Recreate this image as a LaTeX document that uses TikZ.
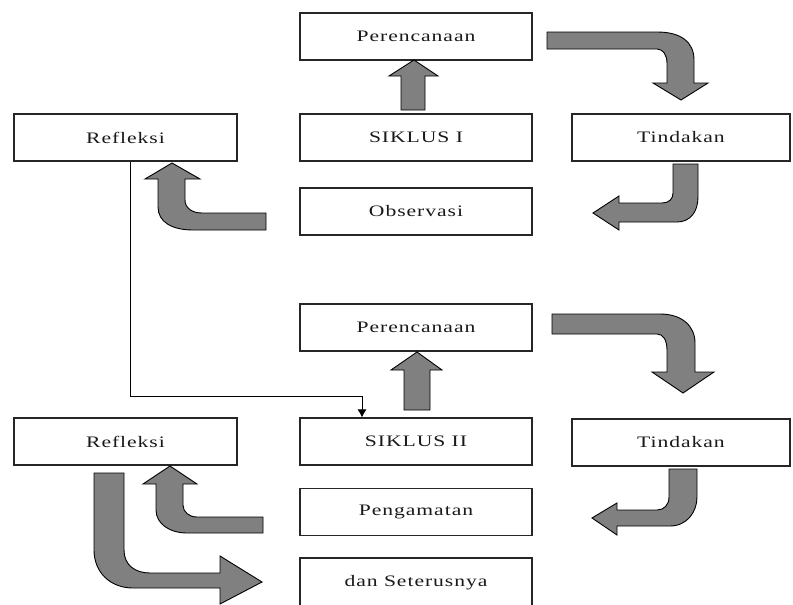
\documentclass[tikz,border=0pt]{standalone}
\usepackage{fontspec}
\setmainfont{Liberation Serif}[FakeStretch=1.35,LetterSpace=6]
\usetikzlibrary{arrows.meta}
\tikzset{
  box/.style={draw=black!85,line width=1.1pt,fill=white,minimum width=232pt,minimum height=47pt,inner sep=0pt,font=\fontsize{16}{19}\selectfont,text=black!90},
  sidebox/.style={box,minimum width=223pt},
  rightbox/.style={box,minimum width=218pt},
  blockarrow/.style={draw=black,line width=0.9pt,fill=black!50,line join=miter},
  thinline/.style={draw=black,line width=0.9pt}
}
\begin{document}
\begin{tikzpicture}[x=1pt,y=-1pt]
\useasboundingbox (0,0) rectangle (793,605);
% Siklus I
\node[box] (p1) at (416,36.5) {Perencanaan};
\node[box] (s1) at (416,137.5) {SIKLUS I};
\node[sidebox] (r1) at (125.5,137.5) {Refleksi};
\node[rightbox] (t1) at (681,137.5) {Tindakan};
\node[box] (o1) at (416,211.5) {Observasi};
% Siklus II
\node[box] (p2) at (416,327.5) {Perencanaan};
\node[box] (s2) at (416,441.5) {SIKLUS II};
\node[sidebox] (r2) at (125.5,441.5) {Refleksi};
\node[rightbox] (t2) at (681,442.5) {Tindakan};
\node[box] (g2) at (416,512) {Pengamatan};
\node[box,minimum height=50pt] (d2) at (416,583) {dan Seterusnya};
% thin connector
\coordinate (k) at (362,396);
\draw[thinline,-{Latex[length=8pt,width=9pt]}] ([xshift=4.5pt]r1.south) |- (k) -- (k |- s2.north);
% block arrows, cycle I
\path[blockarrow] (401,110) -- (425,110) -- (425,76) -- (438,76) -- (414,60) -- (389,76) -- (401,76) -- cycle;
\path[blockarrow] (547,32) -- (657,32) .. controls (681,32) and (694,42) .. (694,60) -- (694,83) -- (708,83) -- (681,100) -- (653,83) -- (667,83) -- (667,63) .. controls (667,55) and (663,49) .. (657,49) -- (547,49) -- cycle;
\path[blockarrow] (673,164) -- (698,164) -- (698,197) .. controls (698,212) and (690,222) .. (677,222) -- (619,222) -- (619,230) -- (593,213) -- (619,196) -- (619,203) -- (662,203) .. controls (669,203) and (673,199) .. (673,193) -- cycle;
\path[blockarrow] (266,213) -- (202,213) .. controls (192,213) and (185,208) .. (185,200) -- (185,179) -- (200,179) -- (172,163) -- (145,179) -- (158,179) -- (158,207) .. controls (158,222) and (172,230) .. (193,230) -- (266,230) -- cycle;
% block arrows, cycle II
\path[blockarrow] (404,410) -- (430,410) -- (430,370) -- (442,370) -- (417,352) -- (391,370) -- (404,370) -- cycle;
\path[blockarrow] (552,314) -- (660,314) .. controls (682,314) and (695,326) .. (695,343) -- (695,372) -- (714,372) -- (683,393) -- (652,372) -- (667,372) -- (667,350) .. controls (667,340) and (663,334) .. (657,334) -- (552,334) -- cycle;
\path[blockarrow] (669,469) -- (697,469) -- (697,497) .. controls (697,512) and (687,526) .. (670,526) -- (617,526) -- (617,535) -- (592,518) -- (617,503) -- (617,510) -- (657,510) .. controls (664,510) and (669,505) .. (669,497) -- cycle;
\path[blockarrow] (263,517) -- (197,517) .. controls (189,517) and (183,512) .. (183,505) -- (183,484) -- (197,484) -- (170,466) -- (143,484) -- (156,484) -- (156,510) .. controls (156,524) and (170,533) .. (187,533) -- (263,533) -- cycle;
\path[blockarrow] (94,473) -- (124,473) -- (124,550) .. controls (124,565) and (135,573) .. (150,573) -- (220,573) -- (220,556) -- (262,582) -- (220,604) -- (220,588) -- (133,588) .. controls (110,588) and (94,572) .. (94,550) -- cycle;
\end{tikzpicture}
\end{document}
